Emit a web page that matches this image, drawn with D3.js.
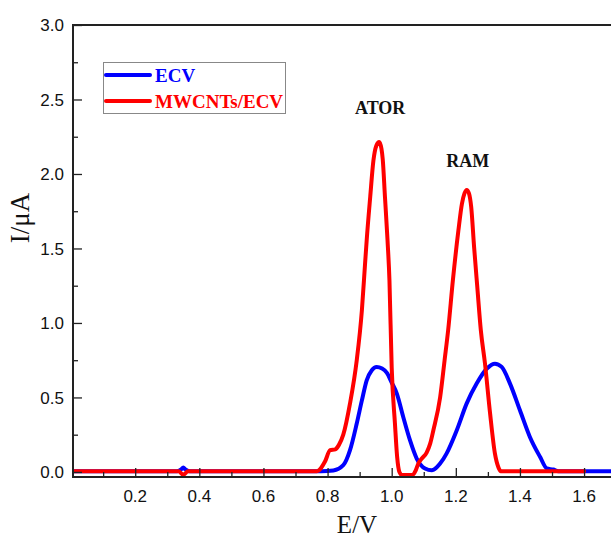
<!DOCTYPE html>
<html>
<head>
<meta charset="utf-8">
<script src="https://cdn.jsdelivr.net/npm/d3@7"></script>
<style>
  html, body { margin: 0; padding: 0; background: #fff; }
  svg { display: block; }
</style>
</head>
<body>
<svg id="chart" width="611" height="540"></svg>
<script>
// Differential pulse voltammograms: potential (V) vs current (µA)
const ecvPotential = [0.00, 0.33, 0.345, 0.35, 0.355, 0.37, 0.78, 0.818, 0.849, 0.870, 0.891, 0.907,
  0.922, 0.938, 0.953, 0.970, 0.985, 1.000, 1.016, 1.036, 1.057, 1.078, 1.104, 1.125, 1.140,
  1.151, 1.171, 1.203, 1.234, 1.265, 1.297, 1.322, 1.343, 1.369, 1.400, 1.431, 1.463, 1.484,
  1.504, 1.52, 1.70];
const ecvCurrent = [0.005, 0.005, 0.02, 0.03, 0.02, 0.005, 0.005, 0.01, 0.045, 0.146, 0.325, 0.48,
  0.615, 0.683, 0.705, 0.695, 0.665, 0.60, 0.526, 0.369, 0.213, 0.09, 0.023, 0.011, 0.03,
  0.056, 0.123, 0.28, 0.46, 0.593, 0.694, 0.727, 0.705, 0.593, 0.414, 0.235, 0.10, 0.023,
  0.016, 0.005, 0.005];

const mwcntPotential = [0.00, 0.335, 0.345, 0.35, 0.355, 0.365, 0.767, 0.792, 0.808, 0.824, 0.835,
  0.849, 0.870, 0.891, 0.907, 0.917, 0.922, 0.933, 0.943, 0.952, 0.961, 0.968, 0.972, 0.979,
  0.987, 0.993, 1.000, 1.010, 1.017, 1.024, 1.032, 1.065, 1.075, 1.083, 1.094, 1.109, 1.120,
  1.130, 1.151, 1.165, 1.176, 1.191, 1.208, 1.219, 1.227, 1.234, 1.241, 1.248, 1.257, 1.267,
  1.278, 1.291, 1.307, 1.322, 1.333, 1.340, 1.60];
const mwcntCurrent = [0.005, 0.005, -0.012, -0.022, -0.012, 0.005, 0.005, 0.07, 0.146, 0.152, 0.18,
  0.25, 0.46, 0.75, 1.085, 1.40, 1.555, 1.846, 2.09, 2.19, 2.215, 2.17, 2.10, 1.846,
  1.555, 1.286, 0.70, 0.33, 0.10, 0.0, -0.02, -0.02, 0.01, 0.056, 0.09, 0.13, 0.19,
  0.28, 0.50, 0.75, 0.95, 1.29, 1.62, 1.80, 1.87, 1.893, 1.87, 1.778, 1.51, 1.24,
  0.951, 0.727, 0.39, 0.123, 0.03, 0.005, 0.005];

const seriesNames = ["ECV", "MWCNTs/ECV"];
const seriesColors = ["#0000ff", "#ff0000"];

const xMajorTicks = [0.2, 0.4, 0.6, 0.8, 1.0, 1.2, 1.4, 1.6];
const xMinorTicks = [0.1, 0.3, 0.5, 0.7, 0.9, 1.1, 1.3, 1.5];
const yMajorTicks = [0.0, 0.5, 1.0, 1.5, 2.0, 2.5, 3.0];
const yMinorTicks = [0.25, 0.75, 1.25, 1.75, 2.25, 2.75];

const peakLabels = ["ATOR", "RAM"];
const peakLabelPos = [[0.961, 2.40], [1.234, 2.05]];

const svg = d3.select("#chart");
const plot = { left: 73, right: 611, top: 25, bottom: 477 };

const x = d3.scaleLinear().domain([0.006, 1.684]).range([plot.left, plot.right]);
const y = d3.scaleLinear().domain([-0.034, 3.0]).range([plot.bottom, plot.top]);

svg.append("defs").append("clipPath").attr("id", "plotClip")
  .append("rect")
  .attr("x", plot.left).attr("y", plot.top)
  .attr("width", plot.right - plot.left).attr("height", plot.bottom - plot.top);

// Curves
const line = d3.line()
  .x(d => x(d[0]))
  .y(d => y(d[1]))
  .curve(d3.curveMonotoneX);

const series = [
  d3.zip(ecvPotential, ecvCurrent),
  d3.zip(mwcntPotential, mwcntCurrent)
];

svg.append("g").attr("clip-path", "url(#plotClip)")
  .selectAll("path")
  .data(series)
  .join("path")
  .attr("d", line)
  .attr("fill", "none")
  .attr("stroke", (d, i) => seriesColors[i])
  .attr("stroke-width", 4)
  .attr("stroke-linejoin", "round")
  .attr("stroke-linecap", "round");

// Axes (ticks pointing inward)
const axisColor = "#222";
const tickFont = "'Liberation Sans', Arial, sans-serif";

const xAxis = svg.append("g").attr("transform", `translate(0,${plot.bottom})`);
xAxis.call(d3.axisTop(x).tickValues(xMajorTicks).tickSize(9).tickFormat(""));
xAxis.append("g").call(d3.axisTop(x).tickValues(xMinorTicks).tickSize(5).tickFormat(""));
xAxis.selectAll(".domain").remove();
xAxis.selectAll("line").attr("stroke", axisColor).attr("stroke-width", 1.3);

svg.append("g").selectAll("text")
  .data(xMajorTicks)
  .join("text")
  .attr("x", d => x(d))
  .attr("y", 502)
  .attr("text-anchor", "middle")
  .attr("font-family", tickFont)
  .attr("font-size", 17)
  .attr("fill", "#111")
  .text(d => d3.format(".1f")(d));

const yAxis = svg.append("g").attr("transform", `translate(${plot.left},0)`);
yAxis.call(d3.axisRight(y).tickValues(yMajorTicks).tickSize(9).tickFormat(""));
yAxis.append("g").call(d3.axisRight(y).tickValues(yMinorTicks).tickSize(5).tickFormat(""));
yAxis.selectAll(".domain").remove();
yAxis.selectAll("line").attr("stroke", axisColor).attr("stroke-width", 1.3);

svg.append("g").selectAll("text")
  .data(yMajorTicks)
  .join("text")
  .attr("x", 64)
  .attr("y", d => y(d))
  .attr("dy", "0.36em")
  .attr("text-anchor", "end")
  .attr("font-family", tickFont)
  .attr("font-size", 17)
  .attr("fill", "#111")
  .text(d => d3.format(".1f")(d));

// Frame: left, bottom and top edges
svg.append("path")
  .attr("d", `M${plot.right},${plot.top}H${plot.left}V${plot.bottom}H${plot.right}`)
  .attr("fill", "none")
  .attr("stroke", axisColor)
  .attr("stroke-width", 2);

// Axis titles
const serif = "'Liberation Serif', 'Times New Roman', serif";
svg.append("text")
  .attr("x", 357).attr("y", 533)
  .attr("text-anchor", "middle")
  .attr("font-family", serif)
  .attr("font-size", 25)
  .attr("fill", "#111")
  .text("E/V");

svg.append("text")
  .attr("transform", "translate(29,218) rotate(-90)")
  .attr("text-anchor", "middle")
  .attr("font-family", serif)
  .attr("font-size", 27)
  .attr("fill", "#111")
  .text("I/μA");

// Peak annotations
svg.append("g").selectAll("text")
  .data(peakLabels)
  .join("text")
  .attr("x", (d, i) => x(peakLabelPos[i][0]) + 1)
  .attr("y", (d, i) => y(peakLabelPos[i][1]))
  .attr("text-anchor", "middle")
  .attr("font-family", serif)
  .attr("font-weight", "bold")
  .attr("font-size", 18)
  .attr("fill", "#111")
  .text(d => d);

// Legend
const legend = svg.append("g");
legend.append("rect")
  .attr("x", 103.5).attr("y", 62.5)
  .attr("width", 182).attr("height", 51)
  .attr("fill", "#fff")
  .attr("stroke", "#888")
  .attr("stroke-width", 1);

const legendRows = legend.selectAll("g.row")
  .data(seriesNames)
  .join("g")
  .attr("class", "row")
  .attr("transform", (d, i) => `translate(0,${75 + i * 26})`);

legendRows.append("line")
  .attr("x1", 106).attr("x2", 150)
  .attr("y1", 0).attr("y2", 0)
  .attr("stroke", (d, i) => seriesColors[i])
  .attr("stroke-width", 4)
  .attr("stroke-linecap", "round");

legendRows.append("text")
  .attr("x", 155)
  .attr("y", 7)
  .attr("font-family", serif)
  .attr("font-weight", "bold")
  .attr("font-size", 19)
  .attr("fill", (d, i) => seriesColors[i])
  .text(d => d);
</script>
</body>
</html>
